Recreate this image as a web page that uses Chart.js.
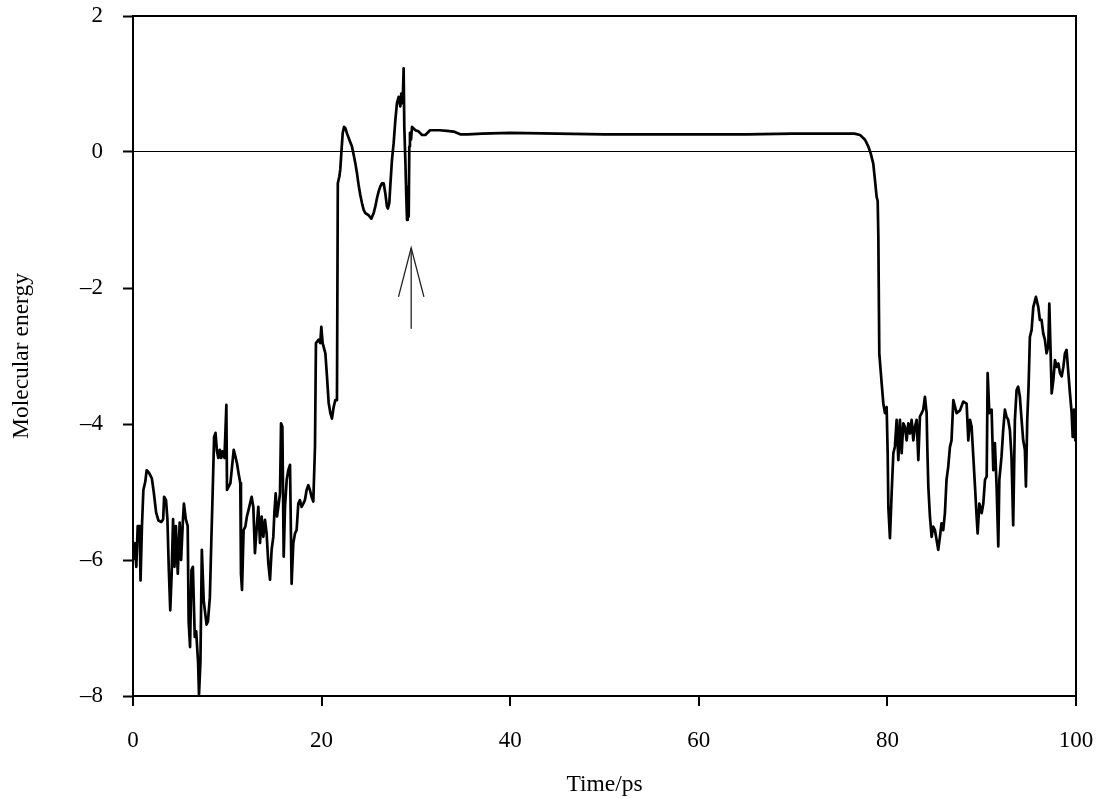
<!DOCTYPE html>
<html>
<head>
<meta charset="utf-8">
<script src="https://cdn.jsdelivr.net/npm/chart.js@4.4.1/dist/chart.umd.min.js"></script>
<style>
  html, body { margin: 0; padding: 0; background: #fff; }
  canvas { display: block; }
</style>
</head>
<body>
<canvas id="chart" width="1097" height="799"></canvas>
<script>
// Molecular energy vs time trace

const times = [
  0.0, 0.2, 0.35, 0.5, 0.7, 0.8, 0.95, 1.1, 1.3, 1.45, 1.7, 2.0, 2.2, 2.45, 2.7, 3.0, 3.2, 3.3, 3.5, 3.65,
  3.8, 3.95, 4.1, 4.25, 4.4, 4.55, 4.75, 4.95, 5.1, 5.3, 5.4, 5.6, 5.8, 5.9, 6.05, 6.2, 6.35, 6.55, 6.7, 6.9,
  7.0, 7.15, 7.3, 7.5, 7.8, 7.95, 8.15, 8.3, 8.45, 8.6, 8.75, 8.9, 9.05, 9.2, 9.35, 9.5, 9.7, 9.9,
  9.97, 10.15, 10.33, 10.5, 10.68, 10.86, 11.03, 11.2, 11.38, 11.45, 11.56, 11.73, 11.91, 12.08, 12.26,
  12.58, 12.76, 12.93, 13.1, 13.29, 13.47, 13.64, 13.82, 14.0, 14.17, 14.35, 14.53, 14.7, 14.88, 14.99,
  15.13, 15.27, 15.41, 15.59, 15.7, 15.84, 15.98, 16.12, 16.3, 16.47, 16.65, 16.82, 17.0, 17.18, 17.35,
  17.53, 17.7, 17.88, 18.06, 18.23, 18.41, 18.59, 18.76, 18.94, 19.12, 19.3,
  19.4, 19.69, 19.86, 19.97, 20.11, 20.4, 20.57, 20.75, 20.93, 21.1, 21.28, 21.45, 21.63,
  21.72, 21.88, 21.98, 22.09, 22.24, 22.38, 22.52, 22.7, 22.94, 23.22, 23.4, 23.58, 23.75, 23.93, 24.1,
  24.28, 24.46, 24.64, 24.99, 25.27, 25.52, 25.7, 25.87, 26.05, 26.22, 26.4, 26.58, 26.76, 26.93, 27.03,
  27.18, 27.28, 27.46, 27.64, 27.82, 27.99, 28.17, 28.35, 28.45, 28.6, 28.7, 28.77, 28.88, 28.99, 29.06,
  29.13, 29.24, 29.3, 29.37, 29.48, 29.59, 29.94, 30.3, 30.65,
  31.0, 31.5, 32.5, 33.3, 34.0, 34.7, 35.5, 37.0, 40.0, 45.0, 50.0, 55.0, 60.0, 65.0, 70.0, 75.0, 76.5,
  77.1, 77.63, 77.98, 78.23, 78.5, 78.68, 78.86, 78.97, 79.04, 79.14, 79.39, 79.57, 79.74, 79.92, 80.03,
  80.1, 80.27, 80.45, 80.63, 80.8, 80.98, 81.16, 81.33, 81.51, 81.69, 81.86, 82.04, 82.22, 82.39, 82.57,
  82.75, 82.92, 83.1, 83.28, 83.45, 83.63, 83.8, 83.98, 84.16, 84.23,
  84.34, 84.51, 84.69, 84.86, 85.04, 85.21, 85.39, 85.57, 85.74, 85.92, 86.1, 86.27, 86.45, 86.63, 86.8,
  86.99, 87.34, 87.7, 88.05, 88.4, 88.58, 88.76, 88.93, 89.11, 89.29, 89.46, 89.57, 89.75, 90.0, 90.17,
  90.35, 90.53, 90.63, 90.81, 91.05, 91.23, 91.4, 91.58, 91.76, 91.87, 92.1, 92.28, 92.46, 92.63, 92.81,
  92.99, 93.16, 93.34, 93.52, 93.7, 93.87, 94.05, 94.23, 94.4, 94.58, 94.69, 94.83, 94.97, 95.11, 95.29,
  95.47, 95.75, 96.0, 96.17, 96.35, 96.53, 96.7, 96.88, 97.06, 97.17, 97.31, 97.42, 97.6, 97.77, 97.95,
  98.13, 98.3, 98.48, 98.66, 98.83, 99.0, 99.19, 99.36, 99.54, 99.65, 99.79, 99.93, 100.0
];

const energies = [
  -6.0, -5.75, -6.1, -5.5, -5.5, -6.3, -5.5, -4.97, -4.85, -4.68, -4.72, -4.8, -5.0, -5.3, -5.42, -5.44, -5.4, -5.07, -5.12, -5.4,
  -6.15, -6.74, -6.2, -5.4, -6.1, -5.5, -6.2, -5.45, -6.0, -5.4, -5.17, -5.4, -5.5, -6.9, -7.28, -6.15, -6.1, -7.13, -7.05, -7.5,
  -7.98, -7.5, -5.85, -6.6, -6.95, -6.9, -6.55, -5.75, -5.0, -4.19, -4.13, -4.4, -4.5, -4.38, -4.5, -4.4, -4.5, -3.72,
  -4.97, -4.92, -4.87, -4.63, -4.38, -4.48, -4.58, -4.73, -4.87, -6.2, -6.44, -5.56, -5.51, -5.36, -5.26,
  -5.07, -5.22, -5.9, -5.56, -5.22, -5.75, -5.36, -5.66, -5.41, -5.61, -6.05, -6.29, -5.85, -5.66, -5.31,
  -5.02, -5.36, -5.22, -5.02, -3.99, -4.04, -5.95, -5.22, -4.82, -4.68, -4.6, -6.35, -5.75, -5.61, -5.56,
  -5.17, -5.12, -5.22, -5.17, -5.12, -4.97, -4.9, -4.97, -5.07, -5.14, -4.33,
  -2.81, -2.76, -2.81, -2.57, -2.81, -2.96, -3.3, -3.69, -3.84, -3.92, -3.75, -3.65, -3.65,
  -0.46, -0.36, -0.26, -0.02, 0.28, 0.37, 0.35, 0.27, 0.18, 0.08, -0.04, -0.17, -0.31, -0.49, -0.63,
  -0.75, -0.85, -0.9, -0.93, -0.98, -0.9, -0.8, -0.68, -0.58, -0.51, -0.46, -0.46, -0.61, -0.8, -0.83,
  -0.75, -0.51, -0.12, 0.13, 0.47, 0.72, 0.81, 0.67, 0.86, 0.72, 1.23, 0.37, -0.12, -0.7, -1.0,
  -0.51, -0.95, 0.08, 0.28, 0.18, 0.37, 0.32, 0.3, 0.25,
  0.25, 0.32, 0.32, 0.31, 0.3, 0.26, 0.26, 0.27, 0.28, 0.27, 0.26, 0.26, 0.26, 0.26, 0.27, 0.27, 0.27,
  0.25, 0.18, 0.08, -0.02, -0.17, -0.41, -0.66, -0.72, -1.25, -2.96, -3.4, -3.7, -3.84, -3.75, -4.43,
  -5.22, -5.68, -5.02, -4.43, -4.33, -3.94, -4.53, -3.94, -4.43, -3.99, -4.04, -4.24, -3.99, -4.14, -3.94,
  -4.24, -4.04, -3.94, -4.53, -3.89, -3.84, -3.79, -3.6, -3.84, -4.33,
  -4.92, -5.36, -5.66, -5.51, -5.56, -5.7, -5.85, -5.66, -5.46, -5.56, -5.31, -4.82, -4.63, -4.34, -4.24,
  -3.65, -3.84, -3.8, -3.67, -3.7, -4.24, -3.94, -4.04, -4.48, -4.92, -5.36, -5.61, -5.17, -5.31, -5.17,
  -4.82, -4.77, -3.25, -3.84, -3.79, -4.68, -4.28, -4.92, -5.8, -4.82, -4.48, -4.09, -3.79, -3.89, -3.94,
  -4.09, -4.48, -5.49, -3.94, -3.5, -3.45, -3.6, -3.94, -4.24, -4.38, -4.92, -3.94, -3.45, -2.72, -2.62,
  -2.28, -2.13, -2.28, -2.47, -2.47, -2.67, -2.76, -2.96, -2.86, -2.23, -2.96, -3.55, -3.35, -3.06, -3.16,
  -3.11, -3.25, -3.3, -3.16, -2.96, -2.91, -3.25, -3.55, -3.84, -4.19, -3.79, -4.24, -3.94
];

// arrow marking the transition
const arrowShaftX = [29.5, 29.5];
const arrowShaftY = [-2.6, -1.41];
const arrowHeadX = [28.15, 29.5, 30.85];
const arrowHeadY = [-2.13, -1.41, -2.13];

const xTicks = [0, 20, 40, 60, 80, 100];
const yTicks = [-8, -6, -4, -2, 0, 2];

const FONT = "'Liberation Serif', 'Times New Roman', serif";

const toPoints = (xs, ys) => xs.map((x, i) => ({ x, y: ys[i] }));

// frame on top and right of the plot area
const framePlugin = {
  id: 'frame',
  afterDraw(chart) {
    const { ctx, chartArea: a } = chart;
    ctx.save();
    ctx.strokeStyle = '#000';
    ctx.lineWidth = 2;
    ctx.beginPath();
    ctx.moveTo(a.left, a.top);
    ctx.lineTo(a.right, a.top);
    ctx.lineTo(a.right, a.bottom);
    ctx.stroke();
    ctx.restore();
  }
};

new Chart(document.getElementById('chart'), {
  type: 'line',
  data: {
    datasets: [
      {
        data: toPoints(times, energies),
        borderColor: '#000',
        borderWidth: 2.7,
        borderJoinStyle: 'round',
        pointRadius: 0,
        tension: 0
      },
      {
        data: toPoints(arrowShaftX, arrowShaftY),
        borderColor: '#222',
        borderWidth: 1.3,
        pointRadius: 0
      },
      {
        data: toPoints(arrowHeadX, arrowHeadY),
        borderColor: '#222',
        borderWidth: 1.3,
        pointRadius: 0
      }
    ]
  },
  options: {
    responsive: false,
    animation: false,
    events: [],
    layout: { padding: { top: 16, right: 21, left: 0, bottom: 0 } },
    plugins: { legend: { display: false }, tooltip: { enabled: false } },
    scales: {
      x: {
        type: 'linear',
        min: 0,
        max: 100,
        afterBuildTicks: s => { s.ticks = xTicks.map(v => ({ value: v })); },
        afterFit: s => { s.height = 103; s.paddingLeft = 0; s.paddingRight = 0; },
        ticks: { font: { family: FONT, size: 23 }, color: '#000', padding: 21, maxRotation: 0 },
        grid: { drawOnChartArea: false, drawTicks: true, tickLength: 10, color: '#000', lineWidth: 2 },
        border: { display: true, color: '#000', width: 2 },
        title: { display: true, text: 'Time/ps', font: { family: FONT, size: 23.5 }, color: '#000', padding: { top: 0, bottom: 0 } }
      },
      y: {
        min: -8,
        max: 2,
        afterBuildTicks: s => { s.ticks = yTicks.map(v => ({ value: v })); },
        afterFit: s => { s.width = 133; s.paddingTop = 0; s.paddingBottom = 0; },
        ticks: {
          font: { family: FONT, size: 23 },
          color: '#000',
          padding: 20,
          callback: v => v < 0 ? '\u2013' + Math.abs(v) : String(v)
        },
        grid: {
          drawOnChartArea: true,
          drawTicks: true,
          tickLength: 10,
          color: c => (c.tick && c.tick.value === 0) ? '#000' : 'rgba(0,0,0,0)',
          lineWidth: 1,
          tickColor: '#000',
          tickWidth: 2
        },
        border: { display: true, color: '#000', width: 2 },
        title: { display: true, text: 'Molecular energy', font: { family: FONT, size: 23.5 }, color: '#000', padding: { top: 8, bottom: 0 } }
      }
    }
  },
  plugins: [framePlugin]
});
</script>
</body>
</html>
